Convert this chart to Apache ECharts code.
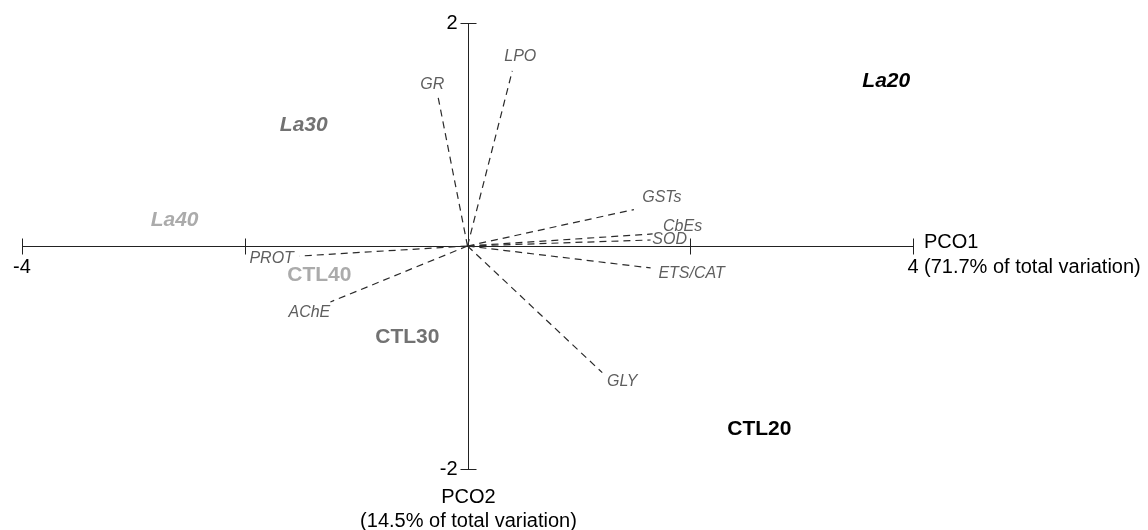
<!DOCTYPE html>
<html><head><meta charset="utf-8">
<script src="https://cdn.jsdelivr.net/npm/echarts@6/dist/echarts.min.js"></script>
<style>html,body{margin:0;padding:0;background:#fff}#c{width:1148px;height:530px}</style>
</head><body><div id="c"></div>
<script>
// ---- data ----
const xRange = [-4, 4];
const yRange = [-2, 2];
const xTicks = [-4, -2, 2, 4];
const xTickLabels = ['-4', '', '', '4'];
const yTicks = [-2, 2];
const yTickLabels = ['-2', '2'];
const xAxisTitle = ['PCO1', '(71.7% of total variation)'];
const yAxisTitle = ['PCO2', '(14.5% of total variation)'];

const groupNames = ['La20', 'La30', 'La40', 'CTL20', 'CTL30', 'CTL40'];
const groupPCO1 = [3.76, -1.47, -2.63, 2.62, -0.54, -1.33];
const groupPCO2 = [1.475, 1.08, 0.227, -1.64, -0.818, -0.259];

const vectorNames = ['GR', 'LPO', 'GSTs', 'CbEs', 'SOD', 'ETS/CAT', 'GLY', 'AChE', 'PROT'];
const vectorPCO1 = [-0.263, 0.402, 1.494, 1.662, 1.644, 1.644, 1.210, -1.231, -1.507];
const vectorPCO2 = [1.330, 1.570, 0.327, 0.108, 0.054, -0.197, -1.136, -0.502, -0.090];

// ---- styles ----
const FONT = '"Liberation Sans", Arial, Helvetica, sans-serif';
const groupStyle = {
  La20: { color: '#000000', italic: true },
  La30: { color: '#727272', italic: true },
  La40: { color: '#ababab', italic: true },
  CTL20: { color: '#000000', italic: false },
  CTL30: { color: '#727272', italic: false },
  CTL40: { color: '#ababab', italic: false }
};
const vectorLabelOffset = {
  'GR': [-6, -13], 'LPO': [8, -14], 'GSTs': [28, -12], 'CbEs': [30, -7.5],
  'SOD': [19, 0], 'ETS/CAT': [41, 5.5], 'GLY': [20, 9], 'AChE': [-21, 11], 'PROT': [-28, 3]
};

const chart = echarts.init(document.getElementById('c'), null, { renderer: 'canvas' });

function crisp(v) { return Math.round(v) + 0.5; }
function seg(x1, y1, x2, y2, style) {
  return { type: 'line', shape: { x1: x1, y1: y1, x2: x2, y2: y2 }, style: style };
}
function txt(x, y, text, opts) {
  return {
    type: 'text',
    style: Object.assign({
      text: text, x: x, y: y, fill: '#000', align: 'center', verticalAlign: 'middle',
      fontFamily: FONT, fontSize: 20
    }, opts || {})
  };
}

function axesRender(params, api) {
  const ch = [];
  const ax = { stroke: '#222', lineWidth: 1 };
  const xa = api.coord([xRange[0], 0]), xb = api.coord([xRange[1], 0]);
  const ya = api.coord([0, yRange[0]]), yb = api.coord([0, yRange[1]]);
  const yLine = crisp(xa[1]);
  const xLine = crisp(ya[0]);
  ch.push(seg(xa[0], yLine, xb[0], yLine, ax));
  ch.push(seg(xLine, ya[1], xLine, yb[1], ax));
  xTicks.forEach(function (t, i) {
    const p = api.coord([t, 0]);
    const px = crisp(p[0]);
    ch.push(seg(px, yLine - 8, px, yLine + 8, ax));
    if (xTickLabels[i]) ch.push(txt(p[0], yLine + 21, xTickLabels[i]));
  });
  yTicks.forEach(function (t, i) {
    const p = api.coord([0, t]);
    const py = crisp(p[1]);
    ch.push(seg(xLine - 8, py, xLine + 8, py, ax));
    if (yTickLabels[i]) ch.push(txt(xLine - 11, py, yTickLabels[i], { align: 'right' }));
  });
  // axis titles
  ch.push(txt(xb[0] + 11, yLine - 4, xAxisTitle[0], { align: 'left' }));
  ch.push(txt(xb[0] + 11, yLine + 21, xAxisTitle[1], { align: 'left' }));
  ch.push(txt(xLine, ya[1] + 28.5, yAxisTitle[0]));
  ch.push(txt(xLine, ya[1] + 52, yAxisTitle[1]));
  return { type: 'group', children: ch };
}

function vectorRender(params, api) {
  const i = params.dataIndex;
  const o = api.coord([0, 0]);
  const e = api.coord([api.value(0), api.value(1)]);
  const name = vectorNames[i];
  const off = vectorLabelOffset[name] || [0, 0];
  return {
    type: 'group',
    children: [
      seg(o[0], o[1], e[0], e[1], { stroke: '#2a2a2a', lineWidth: 1.2, lineDash: [7, 5] }),
      txt(e[0] + off[0], e[1] + off[1], name, { fill: '#5e5e5e', fontSize: 16, fontStyle: 'italic' })
    ]
  };
}

function groupRender(params, api) {
  const i = params.dataIndex;
  const p = api.coord([api.value(0), api.value(1)]);
  const name = groupNames[i];
  const st = groupStyle[name];
  return txt(p[0], p[1], name, {
    fill: st.color, fontSize: 21, fontWeight: 'bold', fontStyle: st.italic ? 'italic' : 'normal'
  });
}

chart.setOption({
  animation: false,
  backgroundColor: '#ffffff',
  grid: { left: 22, width: 891, top: 23, height: 446 },
  xAxis: { type: 'value', min: xRange[0], max: xRange[1], show: false },
  yAxis: { type: 'value', min: yRange[0], max: yRange[1], show: false },
  series: [
    { type: 'custom', name: 'axes', renderItem: axesRender, data: [[0, 0]], silent: true, clip: false },
    {
      type: 'custom', name: 'vectors', renderItem: vectorRender, clip: false, silent: true,
      data: vectorNames.map(function (n, i) { return [vectorPCO1[i], vectorPCO2[i]]; })
    },
    {
      type: 'custom', name: 'groups', renderItem: groupRender, clip: false, silent: true,
      data: groupNames.map(function (n, i) { return [groupPCO1[i], groupPCO2[i]]; })
    }
  ]
});
</script>
</body></html>
